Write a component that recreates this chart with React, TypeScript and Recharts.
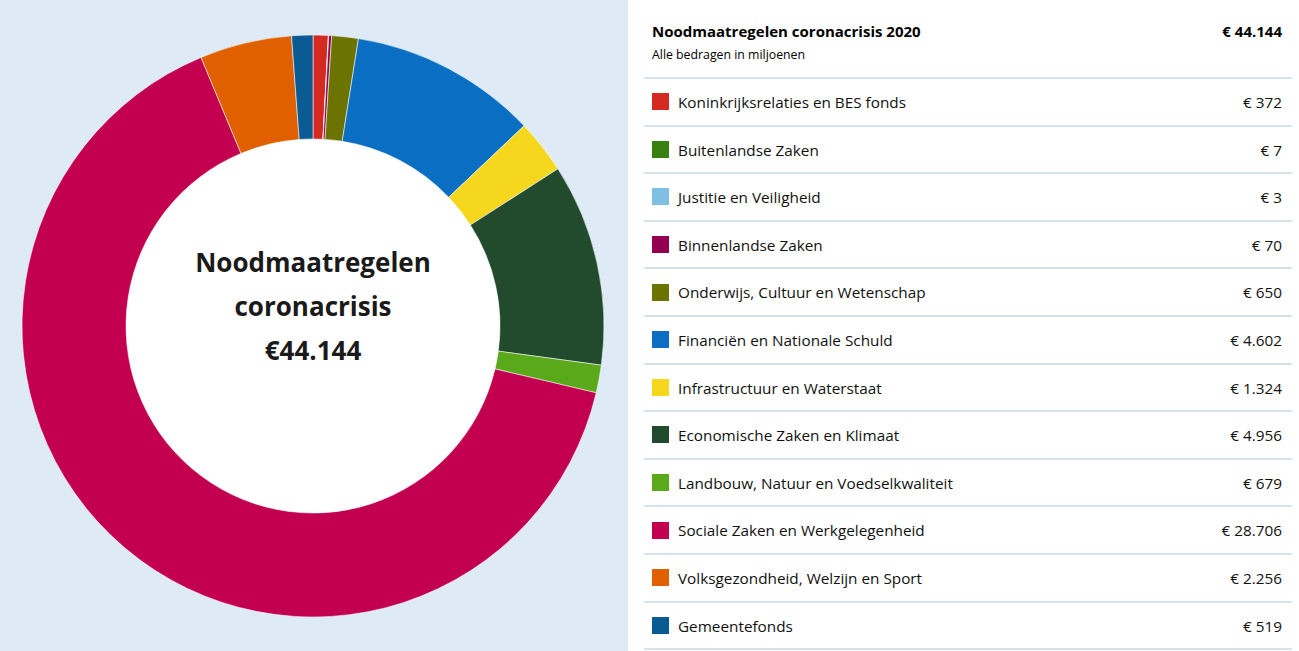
import React from 'react';
import { PieChart, Pie, Cell } from 'recharts';

const departments = [
  'Koninkrijksrelaties en BES fonds',
  'Buitenlandse Zaken',
  'Justitie en Veiligheid',
  'Binnenlandse Zaken',
  'Onderwijs, Cultuur en Wetenschap',
  'Financiën en Nationale Schuld',
  'Infrastructuur en Waterstaat',
  'Economische Zaken en Klimaat',
  'Landbouw, Natuur en Voedselkwaliteit',
  'Sociale Zaken en Werkgelegenheid',
  'Volksgezondheid, Welzijn en Sport',
  'Gemeentefonds',
];
const amounts = [372, 7, 3, 70, 650, 4602, 1324, 4956, 679, 28706, 2256, 519];
const amountLabels = ['€ 372', '€ 7', '€ 3', '€ 70', '€ 650', '€ 4.602', '€ 1.324', '€ 4.956', '€ 679', '€ 28.706', '€ 2.256', '€ 519'];
const colors = ['#d42a1f', '#38800f', '#7fbfe3', '#94004f', '#6c7400', '#0a6fc2', '#f5d81e', '#224b2e', '#5aa91a', '#c2004f', '#e06000', '#0a5a94'];
const title = 'Noodmaatregelen coronacrisis 2020';
const subtitle = 'Alle bedragen in miljoenen';
const totalLabel = '€ 44.144';
const centerLines = ['Noodmaatregelen', 'coronacrisis', '€44.144'];

const pieData = departments.map((name, i) => ({ name, value: amounts[i] }));
const innerData = [{ name: 'centre', value: 1 }];

const FONT = '"Open Sans", "Noto Sans", sans-serif';
const ROW_H = 47.6;
const LINE = '#d6e3ed';

export default function App() {
  return (
    <div style={{ position: 'absolute', left: 0, top: 0, width: 1299, height: 651, background: '#fff', fontFamily: FONT, overflow: 'hidden' }}>
      <div style={{ position: 'absolute', left: 0, top: 0, width: 628, height: 651, background: '#deeaf6' }}>
        <PieChart width={628} height={651} margin={{ top: 0, right: 0, bottom: 0, left: 0 }}>
          <Pie
            data={innerData}
            dataKey="value"
            cx={313}
            cy={326}
            innerRadius={0}
            outerRadius={188}
            fill="#ffffff"
            stroke="none"
            isAnimationActive={false}
          />
          <Pie
            data={pieData}
            dataKey="value"
            cx={313}
            cy={326}
            innerRadius={187}
            outerRadius={291}
            startAngle={90}
            endAngle={-270}
            stroke="rgba(255,255,255,0.55)"
            strokeWidth={1}
            isAnimationActive={false}
          >
            {pieData.map((d, i) => (
              <Cell key={d.name} fill={colors[i]} />
            ))}
          </Pie>
        </PieChart>
        <div style={{ position: 'absolute', left: 113, top: 240, width: 400, textAlign: 'center', fontWeight: 700, fontSize: 26, lineHeight: '44px', color: '#1a1a1a' }}>
          {centerLines.map((l) => (
            <div key={l}>{l}</div>
          ))}
        </div>
      </div>
      <div style={{ position: 'absolute', left: 628, top: 0, width: 671, height: 651 }}>
        <div style={{ position: 'absolute', left: 24, top: 21, fontWeight: 700, fontSize: 15, color: '#000' }}>{title}</div>
        <div style={{ position: 'absolute', right: 17, top: 21, fontWeight: 700, fontSize: 15, color: '#000' }}>{totalLabel}</div>
        <div style={{ position: 'absolute', left: 24, top: 46, fontSize: 12.3, color: '#000' }}>{subtitle}</div>
        <div style={{ position: 'absolute', left: 16, width: 648, top: 77, height: 0, borderTop: `2px solid ${LINE}` }} />
        {departments.map((name, i) => {
          const top = 78 + i * ROW_H;
          return (
            <div key={name} style={{ position: 'absolute', left: 16, width: 648, top, height: ROW_H }}>
              <div style={{ position: 'absolute', left: 8, top: ROW_H / 2 - 8.5, width: 17, height: 17, background: colors[i] }} />
              <div style={{ position: 'absolute', left: 34, top: 1, lineHeight: `${ROW_H}px`, fontSize: 15.3, color: '#111' }}>{name}</div>
              <div style={{ position: 'absolute', right: 10, top: 1, lineHeight: `${ROW_H}px`, fontSize: 15.3, color: '#111' }}>{amountLabels[i]}</div>
              <div style={{ position: 'absolute', left: 0, right: 0, top: ROW_H - 1, height: 0, borderTop: `2px solid ${LINE}` }} />
            </div>
          );
        })}
      </div>
    </div>
  );
}
